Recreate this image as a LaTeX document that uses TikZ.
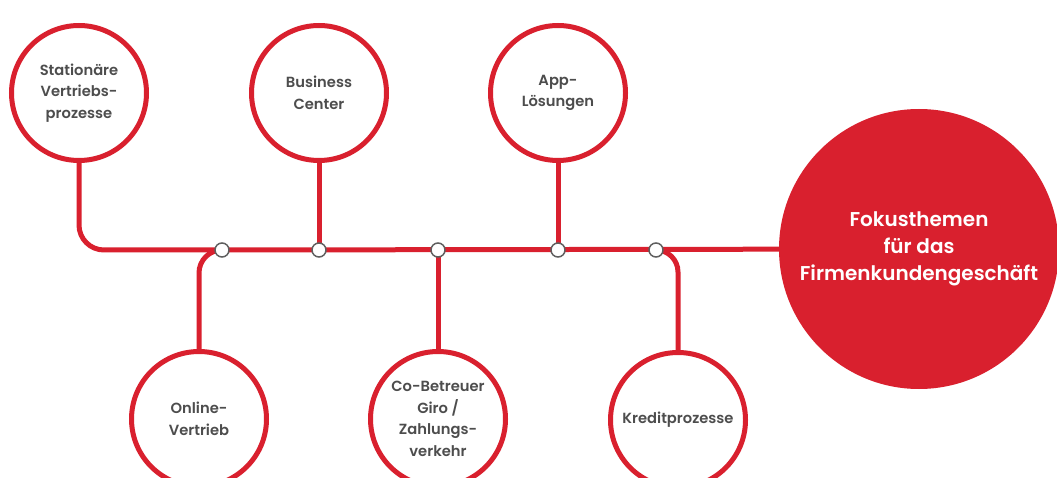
\documentclass[tikz,border=0pt]{standalone}
\usepackage{fontspec}
\setmainfont{Poppins}[BoldFont=Poppins SemiBold]
\usepackage{tikz}
\definecolor{red}{HTML}{D9202E}
\definecolor{gray}{HTML}{4D4D4D}

\begin{document}
\begin{tikzpicture}[x=1pt,y=-1pt,
  topic/.style={circle,draw=red,line width=5pt,fill=white,minimum size=135pt,inner sep=0pt,align=center,text=gray,font=\fontsize{14.7}{21.5}\selectfont\bfseries},
  focus/.style={circle,fill=red,minimum size=280pt,inner sep=0pt,align=center,text=white,font=\fontsize{20}{27}\selectfont\bfseries},
  link/.style={red,line width=5pt},
  dot/.style={circle,draw=gray!90,line width=1.5pt,fill=white,minimum size=14pt,inner sep=0pt}]
\clip (0,0) rectangle (1057,478);
\node[topic] (stat) at (79,93) {Stationäre\\Vertriebs-\\prozesse};
\node[topic] (biz) at (319,93) {Business\\Center};
\node[topic] (app) at (558,93) {App-\\Lösungen};
\node[topic] (online) at (199,419) {Online-\\Vertrieb};
\node[topic] (cobt) at (438,419) {Co-Betreuer\\Giro /\\Zahlungs-\\verkehr};
\node[topic] (kredit) at (678,420) {Kreditprozesse};
\node[focus] (focus) at (919,249) {Fokusthemen\\für das\\Firmenkundengeschäft};
\foreach \n/\x in {1/222,2/319,3/438,4/558,5/656} \coordinate (j\n) at (\x,250);
\draw[link,rounded corners=25pt] (stat) |- (j1);
\draw[link] (j1) -- (focus);
\draw[link] (biz) -- (j2);
\draw[link] (app) -- (j4);
\draw[link] (j3) -- (cobt);
\draw[link,rounded corners=23pt] (j1) -| (online);
\draw[link,rounded corners=22pt] (j5) -| (kredit);
\foreach \n in {1,...,5} \node[dot] (dot\n) at (j\n) {};
\end{tikzpicture}
\end{document}
